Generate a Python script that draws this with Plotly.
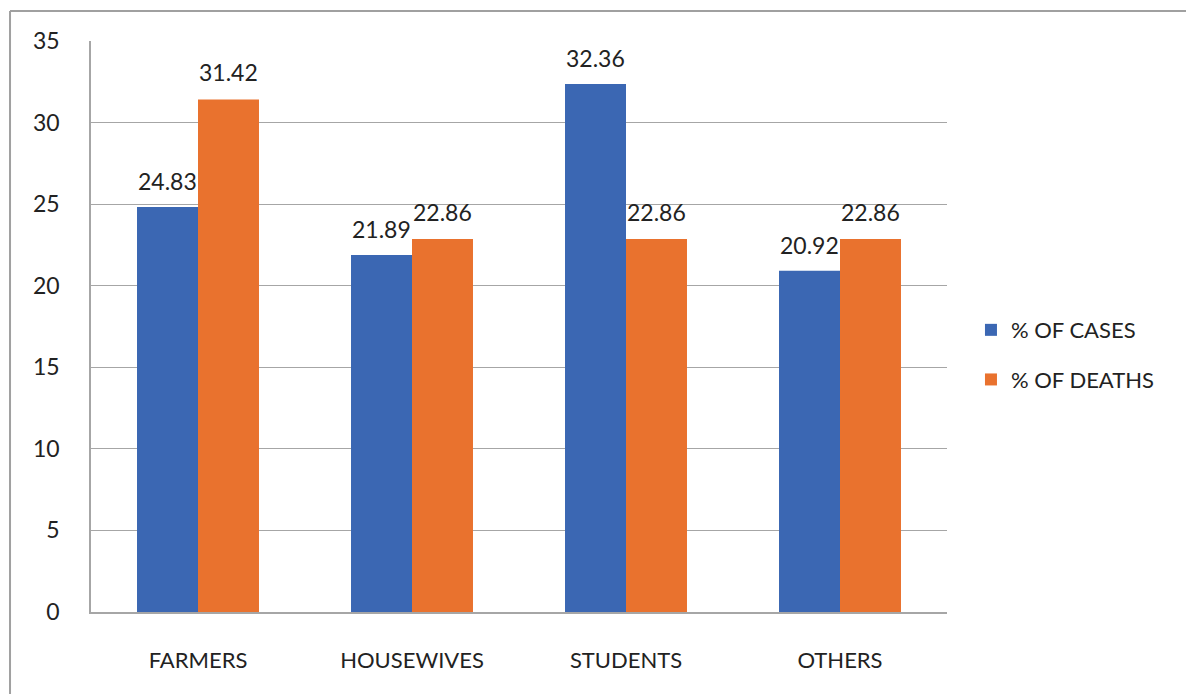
import plotly.graph_objects as go

categories = ["FARMERS", "HOUSEWIVES", "STUDENTS", "OTHERS"]
cases = [24.83, 21.89, 32.36, 20.92]
deaths = [31.42, 22.86, 22.86, 22.86]
y_ticks = [0, 5, 10, 15, 20, 25, 30, 35]

BLUE = "#3b67b3"
ORANGE = "#e9722e"
FONT = "Lato"

fig = go.Figure()
fig.add_trace(go.Bar(x=categories, y=cases, name="% OF CASES", marker_color=BLUE,
                     marker_line_width=0, legendgroup="a"))
fig.add_trace(go.Bar(x=categories, y=deaths, name="% OF DEATHS", marker_color=ORANGE,
                     marker_line_width=0, legendgroup="b"))

ann = []
for c, v in zip(categories, cases):
    ann.append(dict(x=c, y=v, text=f"{v:.2f}", showarrow=False, xshift=-31, yshift=26,
                    font=dict(family=FONT, size=23, color="#222")))
for c, v in zip(categories, deaths):
    ann.append(dict(x=c, y=v, text=f"{v:.2f}", showarrow=False, xshift=30, yshift=27,
                    font=dict(family=FONT, size=23, color="#222")))

fig.update_layout(
    width=1186, height=694,
    margin=dict(l=91, r=239, t=41, b=82),
    paper_bgcolor="white", plot_bgcolor="white",
    barmode="group", bargap=0.43, bargroupgap=0,
    font=dict(family=FONT, size=22, color="#222"),
    annotations=ann,
    showlegend=True,
    legend=dict(x=1.028, y=0.45, xanchor="left", yanchor="middle",
                font=dict(family=FONT, size=22, color="#222"),
                tracegroupgap=18, itemwidth=30),
    xaxis=dict(showgrid=False, showline=True, linecolor="#a6a6a6", linewidth=1.5,
               ticks="", ticklabelstandoff=28, tickfont=dict(size=22)),
    yaxis=dict(range=[0, 35], tickvals=y_ticks, showgrid=True, gridcolor="#a6a6a6",
               gridwidth=1, showline=True, linecolor="#a6a6a6", linewidth=1.5,
               zeroline=False, ticks="", ticklabelstandoff=25, tickfont=dict(size=23)),
    shapes=[
        dict(type="line", xref="paper", yref="paper", x0=-0.0946, x1=1.3, y0=1.0525, y1=1.0525,
             line=dict(color="#a0a0a0", width=2)),
        dict(type="line", xref="paper", yref="paper", x0=-0.0946, x1=-0.0946, y0=-0.2, y1=1.0525,
             line=dict(color="#a0a0a0", width=2)),
    ],
)

fig.write_html("out.html")
